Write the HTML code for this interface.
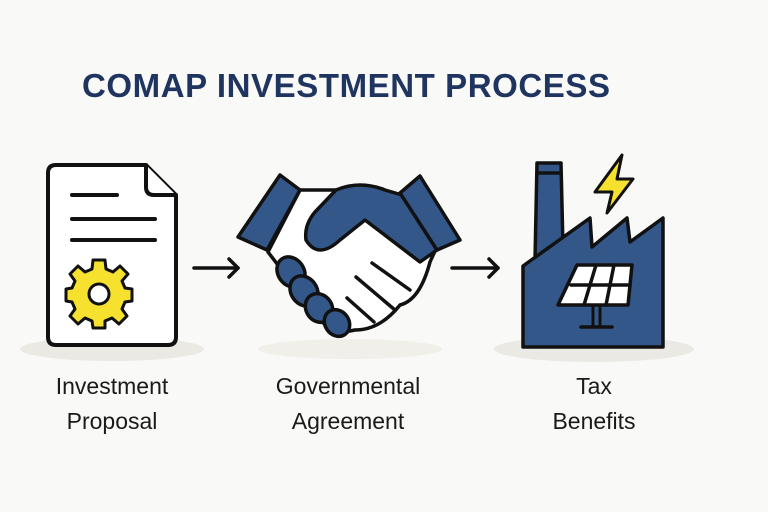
<!DOCTYPE html>
<html><head><meta charset="utf-8"><style>
html,body{margin:0;padding:0;background:#f9f9f7;}
svg{display:block}
</style></head><body>
<svg width="768" height="512" viewBox="0 0 768 512" xmlns="http://www.w3.org/2000/svg">
<rect width="768" height="512" fill="#f9f9f7"/>
<text x="82" y="97" font-family="Liberation Sans, sans-serif" font-weight="bold" font-size="33" fill="#1f3560" textLength="528">COMAP INVESTMENT PROCESS</text>
<ellipse cx="112" cy="349" rx="92" ry="12" fill="#ebe9e3"/>
<ellipse cx="350" cy="349" rx="92" ry="10" fill="#f1efea"/>
<ellipse cx="594" cy="349" rx="100" ry="13" fill="#ebe9e3"/>
<g stroke="#111" stroke-width="4" stroke-linejoin="round" stroke-linecap="round">
<path d="M56 165 H146 L176 195 V337 Q176 345 168 345 H56 Q48 345 48 337 V173 Q48 165 56 165 Z" fill="#fff"/>
<path d="M146 165 V187 Q146 195 154 195 H176" fill="#fff"/>
<line x1="72" y1="195" x2="117" y2="195"/>
<line x1="72" y1="219" x2="155" y2="219"/>
<line x1="72" y1="240" x2="155" y2="240"/>
</g>
<g transform="translate(99,294)" stroke="#111" stroke-width="3" stroke-linejoin="round" fill="#f5e12e">
<path d="M-6,-31 L6,-31 L7,-22 L14,-19 L21,-25 L29,-17 L23,-10 L26,-3 L33,-2 L33,10 L26,11 L23,18 L28,25 L20,33 L13,27 L6,30 L6,37 L-6,37 L-7,30 L-14,27 L-21,33 L-29,25 L-24,18 L-27,11 L-33,10 L-33,-2 L-27,-3 L-24,-10 L-29,-17 L-21,-25 L-14,-19 L-7,-22 Z" transform="translate(0,-3)"/>
<circle cx="0" cy="0" r="10" fill="#fff"/>
</g>
<g stroke="#111" stroke-width="3.5" fill="none" stroke-linecap="round" stroke-linejoin="round">
<line x1="194" y1="268" x2="238" y2="268"/><polyline points="229,259 238,268 229,277"/>
<line x1="452" y1="268" x2="498" y2="268"/><polyline points="489,259 498,268 489,277"/>
</g>
<g stroke="#111" stroke-width="3.5" stroke-linejoin="round" stroke-linecap="round">
<path d="M300 190 L336 190 L370 200 L440 240 L430 262 Q420 300 400 305 Q380 330 355 330 Q335 335 320 320 L268 252 Z" fill="#fff"/>
<path d="M336 190 Q360 180 385 190 L402 195 L437 250 L420 262 L365 220 L340 240 Q318 260 306 240 Q304 225 315 212 Z" fill="#34578a"/>
<polygon points="238,237 280,175 300,190 267,250" fill="#34578a"/>
<polygon points="400,193 420,176 460,240 437,250" fill="#34578a"/>
<ellipse cx="291" cy="272" rx="13" ry="16" transform="rotate(-35 291 272)" fill="#34578a"/>
<ellipse cx="304" cy="291" rx="13" ry="16" transform="rotate(-35 304 291)" fill="#34578a"/>
<ellipse cx="319" cy="308" rx="13" ry="15" transform="rotate(-35 319 308)" fill="#34578a"/>
<ellipse cx="337" cy="323" rx="12" ry="14" transform="rotate(-35 337 323)" fill="#34578a"/>
<line x1="372" y1="263" x2="410" y2="290" fill="none"/>
<line x1="356" y1="277" x2="395" y2="310" fill="none"/>
<line x1="347" y1="298" x2="374" y2="322" fill="none"/>
</g>
<g stroke="#111" stroke-width="3.5" stroke-linejoin="round" stroke-linecap="round">
<path d="M535 260 L537 163 L561 163 L563 248 Z" fill="#34578a"/>
<line x1="537" y1="173" x2="561" y2="173"/>
<path d="M523 266 L590 218 L592 247 L627 218 L630 242 L663 218 L663 347 L523 347 Z" fill="#34578a"/>
<path d="M577 265 L632 265 L628 305 L558 305 Z" fill="#fff"/>
<line x1="571" y1="285" x2="630" y2="285"/>
<line x1="596" y1="265" x2="584" y2="305"/>
<line x1="614" y1="265" x2="606" y2="305"/>
<line x1="593" y1="305" x2="593" y2="326" stroke-width="3"/>
<line x1="600" y1="305" x2="600" y2="326" stroke-width="3"/>
<line x1="581" y1="327" x2="612" y2="327"/>
<path d="M622 155 L595 192 L612 192 L607 213 L633 179 L617 179 Z" fill="#f5e12e" stroke-width="3"/>
</g>
<g font-family="Liberation Sans, sans-serif" font-size="23" fill="#1a1a1a" text-anchor="middle">
<text x="112" y="394">Investment</text>
<text x="112" y="429">Proposal</text>
<text x="348" y="394">Governmental</text>
<text x="348" y="429">Agreement</text>
<text x="594" y="394">Tax</text>
<text x="594" y="429">Benefits</text>
</g>
</svg>
</body></html>
